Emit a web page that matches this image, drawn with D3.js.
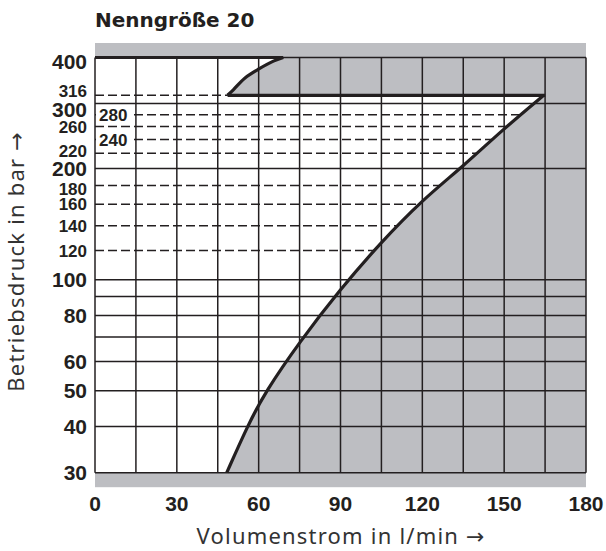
<!DOCTYPE html>
<html>
<head>
<meta charset="utf-8">
<script src="https://cdn.jsdelivr.net/npm/d3@7"></script>
<style>
  body { margin: 0; background: #fff; }
  svg { display: block; }
</style>
</head>
<body>
<div id="my_dataviz"></div>
<script>
// data
var flowTicks = [0, 30, 60, 90, 120, 150, 180];
var flowGrid = [0, 15, 30, 45, 60, 75, 90, 105, 120, 135, 150, 165, 180];
var solidPressure = [30, 40, 50, 60, 70, 80, 90, 100, 200, 300, 400];
var dashedPressure = [120, 140, 160, 180, 220, 240, 260, 280, 316];
var majorLabels = [30, 40, 50, 60, 80, 100, 200, 300, 400];
var minorLabels = [120, 140, 160, 180, 220, 260, 316];
var innerLabels = [240, 280];

var maxPressure = 400, ratedPressure = 316;

// lower limit curve (flow l/min, pressure bar)
var limitCurve = [
  {q: 48.3, p: 30}, {q: 55.8, p: 40}, {q: 62.3, p: 49.5}, {q: 75.1, p: 68},
  {q: 89.8, p: 94}, {q: 104.5, p: 125.5}, {q: 119.8, p: 164}, {q: 135, p: 203},
  {q: 149.7, p: 256}, {q: 164.5, p: 316}
];
// small curve between 316 and 400 bar
var upperCurve = [
  {q: 48.6, p: 316}, {q: 50.7, p: 327}, {q: 55, p: 352}, {q: 60.1, p: 372.5},
  {q: 65.4, p: 391}, {q: 69, p: 400}
];

var margin = {top: 57.5, right: 20, bottom: 78.3, left: 95},
    width = 606 - margin.left - margin.right,
    height = 551 - margin.top - margin.bottom;

var ink = "#231f20", grey = "#bdbec2";

var svg = d3.select("#my_dataviz")
  .append("svg")
    .attr("width", 606)
    .attr("height", 551);

var g = svg.append("g")
    .attr("transform", "translate(" + margin.left + "," + margin.top + ")");

var x = d3.scaleLinear().domain([0, 180]).range([0, width]);
var y = d3.scaleLog().domain([30, 400]).range([height, 0]);

// grey background incl. bands above 400 and below 30
g.append("rect")
  .attr("x", 0).attr("y", -14.5)
  .attr("width", width).attr("height", height + 29)
  .attr("fill", grey);

// white working area
var smooth = d3.line()
  .x(function(d) { return x(d.q); })
  .y(function(d) { return y(d.p); })
  .curve(d3.curveBasis);
var bend = d3.line()
  .x(function(d) { return x(d.q); })
  .y(function(d) { return y(d.p); })
  .curve(d3.curveCatmullRom);

var limitPath = smooth(limitCurve);
var upperPath = bend(upperCurve);
var whitePath = "M" + x(0) + "," + y(30) + "L" + limitPath.slice(1) +
  "L" + upperPath.slice(1) + "L" + x(0) + "," + y(maxPressure) + "Z";

g.append("clipPath").attr("id", "whiteArea")
  .append("path").attr("d", whitePath);

g.append("path").attr("d", whitePath).attr("fill", "#fff");

// dashed lines only inside the white area
g.append("g").attr("clip-path", "url(#whiteArea)")
  .selectAll("line").data(dashedPressure).enter().append("line")
    .attr("x1", 0).attr("x2", width)
    .attr("y1", function(d) { return y(d); })
    .attr("y2", function(d) { return y(d); })
    .attr("stroke", ink).attr("stroke-width", 1.5)
    .attr("stroke-dasharray", "9,4");

// grid
g.append("g").selectAll("line").data(solidPressure).enter().append("line")
  .attr("x1", 0).attr("x2", width)
  .attr("y1", function(d) { return y(d); })
  .attr("y2", function(d) { return y(d); })
  .attr("stroke", ink).attr("stroke-width", 1.5);

g.append("g").selectAll("line").data(flowGrid).enter().append("line")
  .attr("x1", function(d) { return x(d); })
  .attr("x2", function(d) { return x(d); })
  .attr("y1", 0).attr("y2", height)
  .attr("stroke", ink).attr("stroke-width", 1.5);

// heavy limit lines
var thick = g.append("g").attr("fill", "none").attr("stroke", ink)
  .attr("stroke-width", 3.2);
thick.append("path").attr("d", limitPath);
thick.append("path").attr("d", upperPath);
thick.append("line")
  .attr("x1", x(0)).attr("x2", x(upperCurve[upperCurve.length - 1].q))
  .attr("y1", y(maxPressure)).attr("y2", y(maxPressure));
thick.append("line")
  .attr("x1", x(upperCurve[0].q)).attr("x2", x(limitCurve[limitCurve.length - 1].q) + 1.5)
  .attr("y1", y(ratedPressure)).attr("y2", y(ratedPressure));

// tick labels
var labelFont = "Liberation Sans, Arial, Helvetica, sans-serif";
var nudge = {400: 4, 300: 6, 316: -4, 220: -2, 180: 3};

function tickText(sel, size) {
  sel.attr("font-family", labelFont)
    .attr("font-weight", "bold")
    .attr("font-size", size)
    .attr("fill", ink);
}

g.append("g").selectAll("text").data(majorLabels).enter().append("text")
  .attr("x", -8)
  .attr("y", function(d) { return y(d) + (nudge[d] || 0); })
  .attr("dy", "0.36em")
  .attr("text-anchor", "end")
  .call(tickText, 21)
  .text(function(d) { return d; });

g.append("g").selectAll("text").data(minorLabels).enter().append("text")
  .attr("x", -8)
  .attr("y", function(d) { return y(d) + (nudge[d] || 0); })
  .attr("dy", "0.36em")
  .attr("text-anchor", "end")
  .call(tickText, 17)
  .text(function(d) { return d; });

var inner = g.append("g").selectAll("g").data(innerLabels).enter().append("g")
  .attr("transform", function(d) { return "translate(0," + y(d) + ")"; });
inner.append("rect")
  .attr("x", 1).attr("y", -8).attr("width", 37).attr("height", 16)
  .attr("fill", "#fff");
inner.append("text")
  .attr("x", 4).attr("dy", "0.36em")
  .call(tickText, 17)
  .text(function(d) { return d; });

g.append("g").selectAll("text").data(flowTicks).enter().append("text")
  .attr("x", function(d) { return x(d); })
  .attr("y", height + 38)
  .attr("text-anchor", "middle")
  .call(tickText, 21)
  .text(function(d) { return d; });

// titles
svg.append("text")
  .attr("x", 95).attr("y", 27)
  .attr("font-family", "DejaVu Sans, sans-serif")
  .attr("font-weight", "bold")
  .attr("font-size", 20)
  .attr("fill", ink)
  .text("Nenngröße 20");

function axisTitle(sel, label) {
  sel.attr("text-anchor", "middle")
    .attr("font-family", "Noto Sans, sans-serif")
    .attr("font-size", 22)
    .attr("letter-spacing", 1.2)
    .attr("fill", "#333");
  sel.append("tspan").text(label + " ");
  sel.append("tspan").attr("font-family", "DejaVu Sans, sans-serif")
    .attr("letter-spacing", 0).text("→");
}

svg.append("text")
  .attr("x", margin.left + width / 2).attr("y", 544)
  .call(axisTitle, "Volumenstrom in l/min");

svg.append("text")
  .attr("transform", "translate(24,262) rotate(-90)")
  .call(axisTitle, "Betriebsdruck in bar");
</script>
</body>
</html>
